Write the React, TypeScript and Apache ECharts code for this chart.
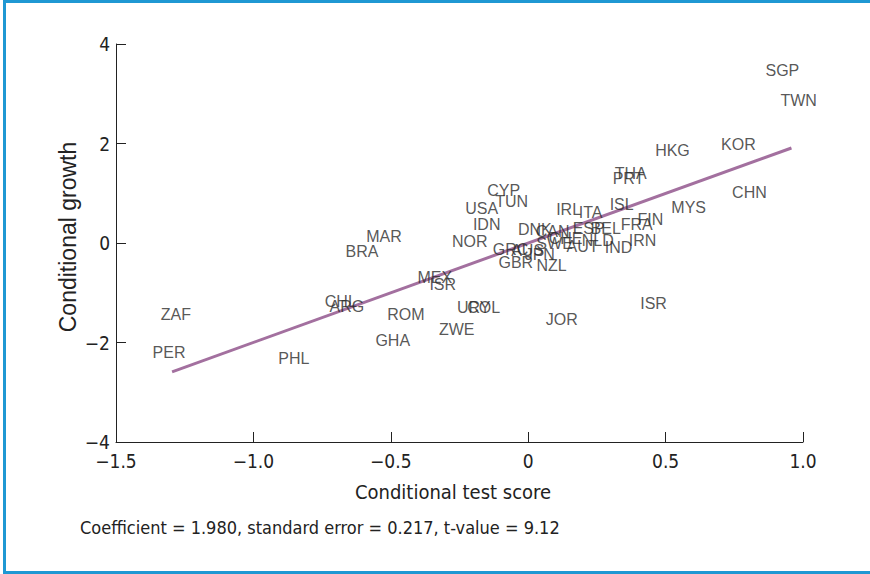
import React, { useEffect, useRef } from "react";
import * as echarts from "echarts";

const countries = ["SGP","TWN","KOR","HKG","CHN","MYS","THA","PRT","ISL","FIN","FRA","IRN","IND","ISR","JOR","CYP","TUN","USA","IDN","NOR","IRL","ITA","DNK","CAN","ESP","BEL","NLD","SWE","CHE","AUT","GRC","AUS","JPN","GBR","NZL","MAR","BRA","MEX","ISR","CHL","ARG","ROM","URY","COL","ZWE","GHA","ZAF","PER","PHL"];
const testScores = [0.925,0.984,0.765,0.525,0.805,0.584,0.373,0.365,0.340,0.445,0.395,0.416,0.329,0.456,0.122,-0.089,-0.060,-0.169,-0.151,-0.213,0.147,0.227,0.024,0.089,0.220,0.282,0.253,0.096,0.136,0.198,-0.064,-0.002,0.042,-0.045,0.085,-0.525,-0.605,-0.340,-0.311,-0.682,-0.660,-0.445,-0.198,-0.162,-0.260,-0.493,-1.282,-1.307,-0.853];
const growth = [3.46,2.87,1.97,1.85,1.01,0.72,1.39,1.29,0.78,0.48,0.38,0.06,-0.10,-1.21,-1.53,1.05,0.84,0.70,0.38,0.04,0.68,0.62,0.28,0.24,0.30,0.30,0.06,0.0,0.10,-0.08,-0.14,-0.16,-0.24,-0.40,-0.46,0.14,-0.18,-0.70,-0.84,-1.17,-1.27,-1.43,-1.29,-1.29,-1.73,-1.95,-1.43,-2.21,-2.33];
const fitX = [-1.296, 0.958];
const fitY = [-2.59, 1.91];
const xTicks = [-1.5, -1.0, -0.5, 0, 0.5, 1.0];
const yTicks = [-4, -2, 0, 2, 4];

const minus = (s: string) => s.replace("-", "\u2212");
const NARROW = "'Liberation Sans Narrow', 'DejaVu Sans Condensed', 'Liberation Sans', sans-serif";
const SANS = "'Liberation Sans', Arial, Helvetica, sans-serif";

export default function App() {
  const ref = useRef<HTMLDivElement>(null);
  useEffect(() => {
    if (!ref.current) return;
    const chart = echarts.init(ref.current, null, { renderer: "svg" });
    const blue = "#1f98d3";
    chart.setOption({
      animation: false,
      backgroundColor: "#ffffff",
      grid: { left: 116, right: 67, top: 44, bottom: 132, containLabel: false },
      xAxis: {
        type: "value",
        min: xTicks[0],
        max: xTicks[xTicks.length - 1],
        interval: 0.5,
        axisLine: { show: true, onZero: false, lineStyle: { color: "#222", width: 1 } },
        axisTick: { show: true, inside: true, length: 10, lineStyle: { color: "#222" } },
        splitLine: { show: false },
        axisLabel: {
          margin: 9,
          color: "#222",
          fontSize: 19,
          fontFamily: NARROW,
          formatter: (v: number) => (v === 0 ? "0" : minus(v.toFixed(1))),
        },
      },
      yAxis: {
        type: "value",
        min: yTicks[0],
        max: yTicks[yTicks.length - 1],
        interval: 2,
        axisLine: { show: true, onZero: false, lineStyle: { color: "#222", width: 1 } },
        axisTick: { show: true, inside: true, length: 10, lineStyle: { color: "#222" } },
        splitLine: { show: false },
        axisLabel: {
          margin: 6,
          color: "#222",
          fontSize: 19,
          fontFamily: NARROW,
          formatter: (v: number) => minus(String(v)),
        },
      },
      series: [
        {
          type: "line",
          data: fitX.map((x, i) => [x, fitY[i]]),
          symbol: "none",
          lineStyle: { color: "#a3709f", width: 3 },
          z: 2,
        },
        {
          type: "scatter",
          data: countries.map((c, i) => ({ name: c, value: [testScores[i], growth[i]] })),
          symbolSize: 1,
          itemStyle: { color: "rgba(0,0,0,0)" },
          label: {
            show: true,
            position: "inside",
            formatter: "{b}",
            color: "#2b2b2b",
            fontSize: 16,
            fontFamily: SANS,
          },
          z: 3,
        },
      ],
      graphic: [
        {
          type: "text",
          x: 453,
          y: 492,
          style: {
            text: "Conditional test score",
            fontSize: 20,
            fontFamily: NARROW,
            fill: "#222",
            align: "center",
            verticalAlign: "middle",
          },
        },
        {
          type: "text",
          x: 80,
          y: 527,
          style: {
            text: "Coefficient = 1.980, standard error = 0.217, t-value = 9.12",
            fontSize: 18,
            fontFamily: NARROW,
            fill: "#222",
            verticalAlign: "middle",
          },
        },
        {
          type: "text",
          x: 68,
          y: 237,
          rotation: Math.PI / 2,
          style: {
            text: "Conditional growth",
            fontSize: 23,
            fontFamily: SANS,
            fill: "#222",
            align: "center",
            verticalAlign: "middle",
          },
        },
        { type: "rect", shape: { x: 3, y: 0, width: 3, height: 574 }, style: { fill: blue } },
        { type: "rect", shape: { x: 3, y: 0, width: 867, height: 3 }, style: { fill: blue } },
        { type: "rect", shape: { x: 3, y: 571, width: 867, height: 3 }, style: { fill: blue } },
      ],
    });
    return () => chart.dispose();
  }, []);
  return (
    <div
      ref={ref}
      style={{ position: "fixed", left: 0, top: 0, width: 870, height: 574, background: "#fff" }}
    />
  );
}
